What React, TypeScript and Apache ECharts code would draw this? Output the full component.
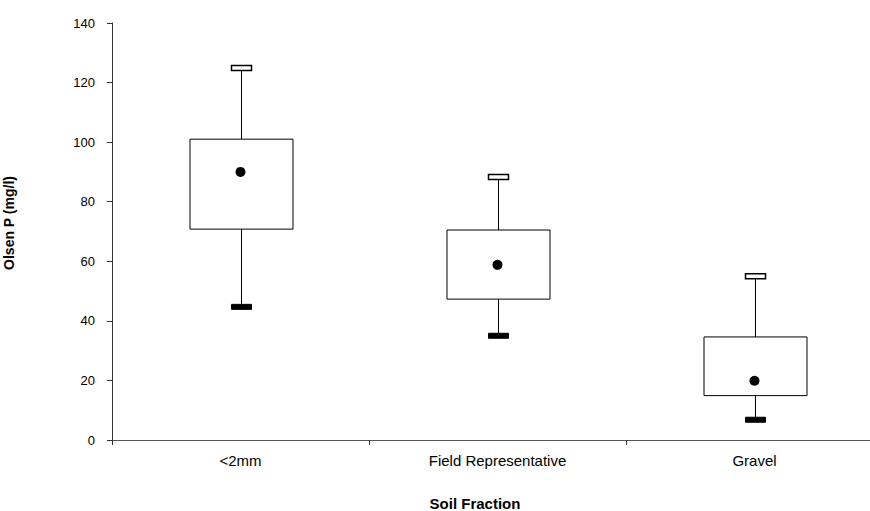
import React, { useEffect, useRef } from "react";
import * as echarts from "echarts";

const categories = ["<2mm", "Field Representative", "Gravel"];
const minValues = [44.7, 35, 6.8];
const q1Values = [70.8, 47.3, 14.9];
const meanValues = [90, 58.8, 19.9];
const q3Values = [101, 70.5, 34.6];
const maxValues = [124.9, 88.3, 55];
const yTicks = { min: 0, max: 140, interval: 20 };

const FONT = "'Liberation Sans', Arial, sans-serif";

export default function App() {
  const ref = useRef<HTMLDivElement>(null);
  useEffect(() => {
    if (!ref.current) return;
    const chart = echarts.init(ref.current, null, { renderer: "svg" });
    const boxData = categories.map((_, i) => [i, minValues[i], q1Values[i], q3Values[i], maxValues[i]]);
    const meanData = categories.map((_, i) => [i, meanValues[i]]);
    const option: any = {
      animation: false,
      backgroundColor: "#fff",
      textStyle: { fontFamily: FONT },
      grid: { left: 112, top: 23, width: 771, bottom: 71, outerBoundsMode: "none", containLabel: false },
      xAxis: {
        type: "category",
        data: categories,
        boundaryGap: true,
        axisLine: { show: true, lineStyle: { color: "#555", width: 1 } },
        axisTick: { show: true, alignWithLabel: false, length: 5, lineStyle: { color: "#333" } },
        axisLabel: { color: "#000", fontSize: 15, fontFamily: FONT, margin: 13 },
        splitLine: { show: false },
      },
      yAxis: {
        type: "value",
        min: yTicks.min,
        max: yTicks.max,
        interval: yTicks.interval,
        axisLine: { show: true, lineStyle: { color: "#333", width: 1 } },
        axisTick: { show: true, inside: false, length: 5, lineStyle: { color: "#333" } },
        axisLabel: { color: "#000", fontSize: 13, fontFamily: FONT, margin: 17 },
        splitLine: { show: false },
      },
      graphic: [
        {
          type: "text",
          x: 475,
          y: 503,
          style: {
            text: "Soil Fraction",
            fill: "#000",
            font: `bold 15px ${FONT}`,
            textAlign: "center",
            textVerticalAlign: "middle",
          },
        },
        {
          type: "text",
          x: 9,
          y: 223,
          rotation: Math.PI / 2,
          style: {
            text: "Olsen P (mg/l)",
            fill: "#000",
            font: `bold 14px ${FONT}`,
            textAlign: "center",
            textVerticalAlign: "middle",
          },
        },
      ],
      series: [
        {
          type: "custom",
          data: boxData,
          encode: { x: 0, y: [1, 2, 3, 4] },
          renderItem: (params: any, api: any) => {
            const i = api.value(0);
            const pMin = api.coord([i, api.value(1)]);
            const pQ1 = api.coord([i, api.value(2)]);
            const pQ3 = api.coord([i, api.value(3)]);
            const pMax = api.coord([i, api.value(4)]);
            const bw = Math.round(api.size([1, 0])[0] * 0.4);
            const cx = Math.round(pMin[0]) + 0.5;
            const capW = 20;
            const capH = 5;
            const ls = { stroke: "#000", lineWidth: 1 };
            return {
              type: "group",
              children: [
                { type: "line", shape: { x1: cx, y1: pMax[1], x2: cx, y2: pQ3[1] }, style: ls },
                { type: "line", shape: { x1: cx, y1: pQ1[1], x2: cx, y2: pMin[1] }, style: ls },
                {
                  type: "rect",
                  shape: { x: cx - bw / 2, y: pQ3[1], width: bw, height: pQ1[1] - pQ3[1] },
                  style: { fill: "#fff", stroke: "#000", lineWidth: 1 },
                },
                {
                  type: "rect",
                  shape: { x: cx - capW / 2, y: pMax[1] - capH / 2, width: capW, height: capH },
                  style: { fill: "#fff", stroke: "#000", lineWidth: 1.5 },
                },
                {
                  type: "rect",
                  shape: { x: cx - capW / 2, y: pMin[1] - capH / 2, width: capW, height: capH },
                  style: { fill: "#000", stroke: "#000", lineWidth: 1 },
                },
              ],
            };
          },
        },
        {
          type: "scatter",
          data: meanData,
          symbol: "circle",
          symbolSize: 10,
          itemStyle: { color: "#000", opacity: 1 },
          z: 5,
        },
      ],
    };
    chart.setOption(option);
    return () => chart.dispose();
  }, []);
  return (
    <div
      ref={ref}
      style={{ position: "absolute", left: 0, top: 0, width: 870, height: 511, background: "#fff" }}
    />
  );
}
